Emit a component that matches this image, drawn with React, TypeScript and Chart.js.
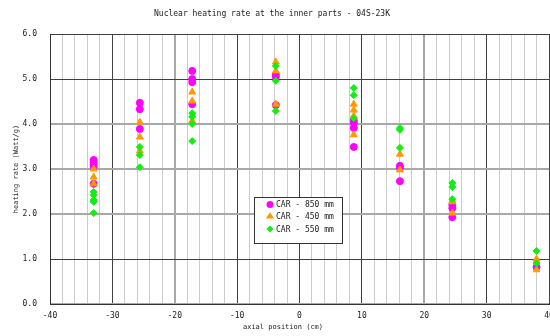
import { useEffect, useRef } from 'react';
import { Chart, registerables } from 'chart.js';

Chart.register(...registerables);

const TITLE = 'Nuclear heating rate at the inner parts - 04S-23K';
const X_TITLE = 'axial position (cm)';
const Y_TITLE = 'heating rate (Watt/g)';
const seriesNames = ['CAR - 850 mm', 'CAR - 450 mm', 'CAR - 550 mm'];
const seriesColors = ['#ff00ff', '#ff9900', '#11ee11'];
const seriesShapes = ['circle', 'triangle', 'rectRot'];

// axial positions (cm) of the measurement clusters
const positions = [-33.0, -25.6, -17.2, -3.8, 8.7, 16.1, 24.5, 38.0];

// heating rate values (Watt/g) at each position
const car850 = [
  [3.2, 3.15, 3.1, 3.05, 2.67],
  [4.47, 4.33, 3.89],
  [5.18, 5.0, 4.93, 4.44],
  [5.1, 5.05, 4.42],
  [4.08, 4.02, 3.91, 3.49],
  [3.07, 3.02, 2.73],
  [2.2, 2.13, 1.93],
  [0.82],
];
const car450 = [
  [3.0, 2.82, 2.67],
  [4.04, 3.71, 3.4],
  [4.71, 4.51, 4.07],
  [5.38, 5.18, 4.44],
  [4.44, 4.31, 4.18, 3.76],
  [3.33, 2.98],
  [2.3, 2.27, 2.02],
  [1.0, 0.76],
];
const car550 = [
  [2.49, 2.42, 2.31, 2.27, 2.02],
  [3.49, 3.31, 3.04],
  [4.24, 4.16, 4.0, 3.62],
  [5.29, 4.96, 4.29],
  [4.8, 4.64, 4.13],
  [3.91, 3.87, 3.47],
  [2.69, 2.6, 2.33],
  [1.18, 0.91],
];

const xTicks = { min: -40, max: 40, step: 2, labelEvery: 10 };
const yTicks = { min: 0, max: 6, step: 1 };

const MONO = '"DejaVu Sans Mono", monospace';
const TEXT = '#222222';

function toPoints(values: number[][]) {
  const pts: { x: number; y: number }[] = [];
  values.forEach((list, i) => list.forEach((v) => pts.push({ x: positions[i], y: v })));
  return pts;
}

function drawMarker(ctx: CanvasRenderingContext2D, shape: string, r: number, x: number, y: number) {
  ctx.beginPath();
  if (shape === 'circle') {
    ctx.arc(x, y, r, 0, Math.PI * 2);
  } else if (shape === 'triangle') {
    const h = r * 1.5;
    ctx.moveTo(x, y - r);
    ctx.lineTo(x + r * 0.866 * 1.15, y + h - r);
    ctx.lineTo(x - r * 0.866 * 1.15, y + h - r);
  } else {
    ctx.moveTo(x, y - r);
    ctx.lineTo(x + r, y);
    ctx.lineTo(x, y + r);
    ctx.lineTo(x - r, y);
  }
  ctx.closePath();
  ctx.fill();
}

const textPlugin = {
  id: 'customTexts',
  afterDraw(chart: any) {
    const ctx = chart.ctx as CanvasRenderingContext2D;
    const area = chart.chartArea;
    ctx.save();
    ctx.fillStyle = TEXT;
    ctx.textBaseline = 'middle';
    // title
    ctx.font = `8px ${MONO}`;
    ctx.textAlign = 'center';
    ctx.fillText(TITLE, 272, 14);
    // x title
    ctx.font = `7px ${MONO}`;
    ctx.fillText(X_TITLE, 283, 327);
    // y title
    ctx.save();
    ctx.translate(16, (area.top + area.bottom) / 2);
    ctx.rotate(-Math.PI / 2);
    ctx.fillText(Y_TITLE, 0, 0);
    ctx.restore();
    // legend
    const bx = 254.5, by = 197.5, bw = 88, bh = 46;
    ctx.fillStyle = '#ffffff';
    ctx.fillRect(bx, by, bw, bh);
    ctx.strokeStyle = '#333333';
    ctx.lineWidth = 1;
    ctx.strokeRect(bx, by, bw, bh);
    const rows = [204.5, 216.5, 229];
    ctx.font = `8px ${MONO}`;
    ctx.textAlign = 'left';
    seriesNames.forEach((name, i) => {
      ctx.fillStyle = seriesColors[i];
      drawMarker(ctx, seriesShapes[i], i === 1 ? 4.2 : 3.5, 270, rows[i]);
      ctx.fillStyle = TEXT;
      ctx.fillText(name, 276, rows[i] + 0.5);
    });
    ctx.restore();
  },
};

export default function App() {
  const ref = useRef<HTMLCanvasElement | null>(null);
  useEffect(() => {
    document.body.style.margin = '0';
    const canvas = ref.current;
    if (!canvas) return;
    const gridDarkX = [-30, -10, 0, 10, 30];
    const gridGrayX = [-20, 20];
    const gridDarkY = [1, 5, 6];
    const chart = new Chart(canvas, {
      type: 'scatter',
      data: {
        datasets: [car850, car450, car550].map((vals, i) => ({
          label: seriesNames[i],
          data: toPoints(vals),
          pointStyle: seriesShapes[i] as any,
          pointRadius: i === 1 ? 4 : 3.5,
          pointBackgroundColor: seriesColors[i],
          pointBorderColor: seriesColors[i],
          pointBorderWidth: 1,
          order: 3 - i,
        })),
      },
      options: {
        animation: false,
        responsive: false,
        devicePixelRatio: 1,
        layout: { autoPadding: false, padding: { top: 34, left: 0, right: 1, bottom: 0 } },
        plugins: {
          legend: { display: false },
          title: { display: false },
          tooltip: { enabled: false },
        },
        scales: {
          x: {
            type: 'linear',
            min: xTicks.min,
            max: xTicks.max,
            afterFit: (s: any) => {
              s.height = 32;
              s.paddingLeft = 0;
              s.paddingRight = 0;
            },
            ticks: {
              stepSize: xTicks.step,
              autoSkip: false,
              maxRotation: 0,
              padding: 7,
              color: TEXT,
              font: { family: MONO, size: 8 },
              callback: (v: any) => (Number(v) % xTicks.labelEvery === 0 ? String(v) : ''),
            },
            grid: {
              drawTicks: false,
              color: (c: any) => {
                const v = c.tick?.value;
                if (gridDarkX.includes(v) || v === 40) return '#404040';
                if (gridGrayX.includes(v)) return '#a8a8a8';
                return '#cccccc';
              },
              lineWidth: (c: any) => (gridGrayX.includes(c.tick?.value) ? 2 : 1),
            },
            border: { color: '#333333' },
          },
          y: {
            type: 'linear',
            min: yTicks.min,
            max: yTicks.max,
            afterFit: (s: any) => {
              s.width = 50;
              s.paddingTop = 0;
              s.paddingBottom = 0;
            },
            ticks: {
              stepSize: yTicks.step,
              padding: 13,
              color: TEXT,
              font: { family: MONO, size: 8 },
              callback: (v: any) => Number(v).toFixed(1),
            },
            grid: {
              drawTicks: false,
              color: (c: any) => (gridDarkY.includes(c.tick?.value) ? '#404040' : '#a8a8a8'),
              lineWidth: (c: any) => (gridDarkY.includes(c.tick?.value) ? 1 : 2),
            },
            border: { color: '#333333' },
          },
        },
      },
      plugins: [textPlugin],
    });
    return () => chart.destroy();
  }, []);
  return (
    <div style={{ width: 550, height: 336 }}>
      <canvas ref={ref} width={550} height={336} />
    </div>
  );
}
